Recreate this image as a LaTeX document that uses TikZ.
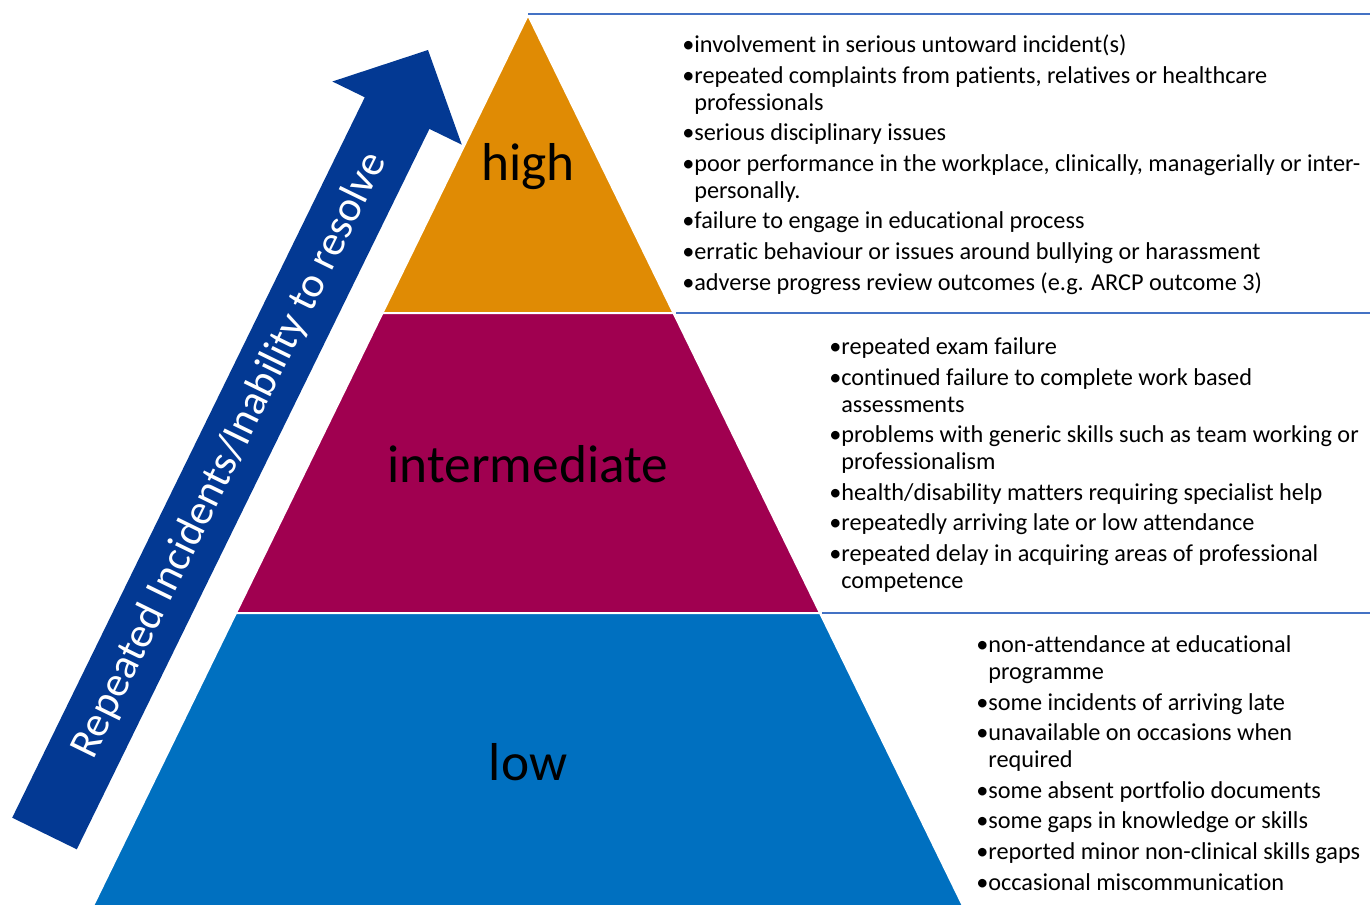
\documentclass[tikz,border=0pt]{standalone}
\usepackage{fontspec}
\setmainfont{Carlito}[Ligatures=NoCommon]
\definecolor{highorange}{HTML}{E08B04}
\definecolor{midmaroon}{HTML}{A00050}
\definecolor{lowblue}{HTML}{0070C0}
\definecolor{arrowblue}{HTML}{033993}
\definecolor{ruleblue}{HTML}{4472C4}
\newcommand{\gap}{\hphantom{•}}

\begin{document}
\begin{tikzpicture}
      [x=0.75pt,y=-0.75pt,
      every node/.style={inner sep=0pt},
      tier/.style={draw=white,line width=1.5pt},
      rank/.style={anchor=base,font=\fontsize{40}{46}\selectfont},
      notes/.style={anchor=base west,align=left,font=\fontsize{18.2}{20}\selectfont},
      rule/.style={draw=ruleblue,line width=1.5pt}]
\useasboundingbox (0,0) rectangle (1370,906);

% pyramid corners
\coordinate (apex) at (528,15);
\coordinate (hiL) at (382.5,313);  \coordinate (hiR) at (673.5,313);
\coordinate (midL) at (236,613);   \coordinate (midR) at (820,613);
\coordinate (loL) at (93,906);     \coordinate (loR) at (963,906);

\fill[highorange,tier] (apex) -- (hiL) -- (hiR) -- cycle;
\fill[midmaroon,tier] (hiL) -- (midL) -- (midR) -- (hiR) -- cycle;
\fill[lowblue,tier] (midL) -- (loL) -- (loR) -- (midR) -- cycle;

\node[rank] (high) at (528,180) {high};
\node[rank] (intermediate) at (528,482) {intermediate};
\node[rank] (low) at (528,780) {low};

% separators to the right
\coordinate (r0) at (1370,14);  \coordinate (r1) at (1370,313);  \coordinate (r2) at (1370,613);
\draw[rule] (528,14) -- (r0);
\draw[rule] (676,313) -- (r1);
\draw[rule] (822,613) -- (r2);

% lists sit on the baseline of their last line
\node[notes] (highnotes) at (682,290)
  {•involvement in serious untoward incident(s)\\[3pt]
   •repeated complaints from patients, relatives or healthcare\\
   \gap professionals\\[3pt]
   •serious disciplinary issues\\[3pt]
   •poor performance in the workplace, clinically, managerially or inter-\\
   \gap personally.\\[3pt]
   •failure to engage in educational process\\[3pt]
   •erratic behaviour or issues around bullying or harassment\\[3pt]
   •adverse progress review outcomes (e.g. ARCP outcome 3)};
\node[notes] (midnotes) at (829,588)
  {•repeated exam failure\\[3pt]
   •continued failure to complete work based\\
   \gap assessments\\[3pt]
   •problems with generic skills such as team working or\\
   \gap professionalism\\[3pt]
   •health/disability matters requiring specialist help\\[3pt]
   •repeatedly arriving late or low attendance\\[3pt]
   •repeated delay in acquiring areas of professional\\
   \gap competence};
\node[notes] (lownotes) at (976,890)
  {•non-attendance at educational\\
   \gap programme\\[3pt]
   •some incidents of arriving late\\[3pt]
   •unavailable on occasions when\\
   \gap required\\[3pt]
   •some absent portfolio documents\\[3pt]
   •some gaps in knowledge or skills\\[3pt]
   •reported minor non-clinical skills gaps\\[3pt]
   •occasional miscommunication};

% escalation arrow
\fill[arrowblue] (12.2,817.7) -- (364.8,97.3) -- (332.4,81.5) -- (428,50)
  -- (461.8,144.7) -- (429.4,128.9) -- (76.8,849.3) -- cycle;
\coordinate (tail) at (44.5,833.5);
\coordinate (neck) at (397.1,113.1);
\path (tail) -- (neck) node[pos=0.525,sloped,text=white,font=\fontsize{32}{36}\selectfont] (trend)
  {Repeated Incidents/Inability to resolve};
\end{tikzpicture}
\end{document}
